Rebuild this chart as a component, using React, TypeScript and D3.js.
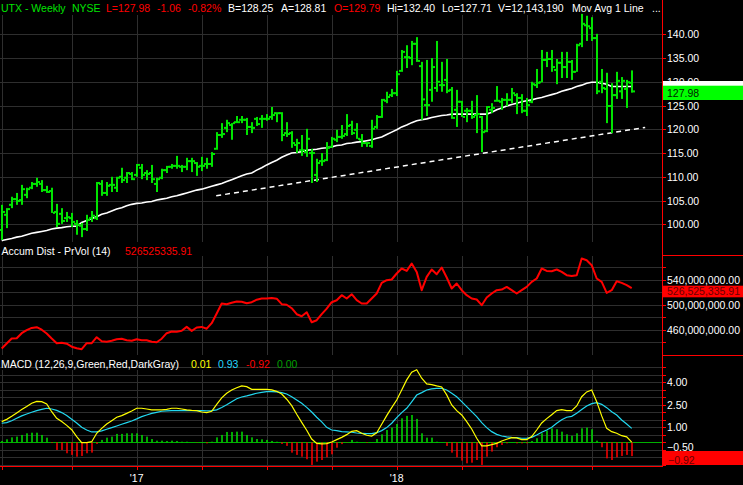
import React from "react";
import * as d3 from "d3";

const W = 743;
const H = 485;

// Weekly OHLC (UTX, ~Jul 2016 .. Nov 2018), 127 bars
const opens = [98.8,102.0,104.1,105.3,105.1,106.2,107.7,108.5,108.5,107.2,
107.0,102.6,102.2,101.3,101.3,100.1,99.7,99.0,101.3,101.3,
108.5,106.6,108.3,107.7,110.0,109.8,110.6,110.4,111.9,110.8,
110.8,108.5,109.8,111.4,112.1,112.3,112.1,112.1,113.3,112.9,
112.3,112.7,112.7,115.9,118.8,120.3,120.9,121.5,122.0,122.0,
120.5,122.2,122.2,122.2,122.6,123.4,123.4,119.2,119.2,116.7,
115.6,115.2,115.0,110.4,113.3,113.5,116.3,117.8,118.4,119.0,
120.9,119.9,117.8,117.1,116.5,120.5,122.6,126.0,127.2,127.6,
132.3,135.2,135.0,138.0,133.3,125.1,128.3,128.7,129.3,130.4,
128.3,124.1,125.8,123.9,123.9,123.0,122.6,119.6,124.1,126.0,
125.8,126.2,126.2,127.2,126.6,123.9,125.8,129.3,129.9,134.6,
134.8,132.5,134.0,133.1,134.2,132.1,138.0,141.9,141.3,139.2,
130.0,128.5,124.9,127.2,128.0,128.5,129.79];
const highs = [104.1,103.4,105.8,106.6,108.3,107.7,108.9,109.8,109.3,108.1,
107.7,104.3,103.4,102.6,102.4,100.9,100.3,102.0,102.8,108.9,
109.3,108.9,110.0,110.0,111.9,111.0,111.0,112.7,112.7,111.4,
112.5,109.8,111.7,112.3,112.7,114.4,112.5,114.0,114.0,113.1,
114.2,114.0,115.2,119.4,121.3,122.0,121.3,122.8,122.8,122.4,
121.5,122.6,123.0,123.2,124.7,123.6,123.6,121.5,119.6,118.0,
118.8,120.1,115.9,113.8,115.0,117.3,118.4,119.9,120.9,123.2,
121.8,121.3,119.0,117.3,122.0,123.0,126.4,127.9,128.5,132.3,
136.7,137.7,138.6,139.4,134.2,134.6,135.0,138.6,134.2,134.8,
128.9,128.3,126.0,124.5,126.0,127.2,122.8,124.9,125.5,129.1,
126.6,127.6,128.7,127.6,127.4,126.6,130.0,132.7,136.7,136.3,
136.7,134.8,136.3,136.3,134.6,138.0,144.3,143.9,143.6,140.1,
132.7,131.9,129.7,132.1,131.0,130.4,132.40];
const lows = [96.7,99.2,103.4,104.1,104.1,105.5,107.4,107.9,106.8,106.6,
102.4,99.4,100.1,100.5,99.4,97.8,97.3,98.6,100.5,100.9,
106.0,106.0,106.8,106.8,108.7,108.7,109.3,110.0,109.5,109.3,
108.7,106.8,109.5,110.8,111.7,111.7,111.0,111.4,111.0,110.2,
111.2,111.7,112.1,115.7,118.2,119.4,117.8,121.3,121.3,118.8,
119.2,120.7,120.3,121.8,122.0,121.5,117.5,118.4,116.1,115.0,
114.4,114.2,108.7,108.9,112.3,113.3,116.1,117.3,118.0,118.6,
118.8,118.0,116.3,116.3,116.1,120.1,122.4,125.5,126.8,127.0,
132.1,132.9,133.5,134.2,122.0,122.8,125.8,127.9,127.9,127.6,
122.2,120.5,122.6,121.5,122.2,119.2,115.2,119.4,123.4,125.8,
124.1,124.9,125.5,123.2,123.4,122.8,125.5,128.7,129.9,133.1,
132.1,129.5,130.8,130.8,130.4,132.1,137.3,138.6,138.6,127.4,
127.6,121.3,119.2,126.4,126.4,124.5,127.71];
const closes = [102.6,103.2,105.3,104.9,107.4,107.4,108.5,108.9,107.2,106.8,
102.4,100.1,100.7,101.5,100.5,99.9,99.0,100.9,101.8,108.7,
106.6,108.1,108.3,109.8,109.3,110.8,109.5,112.5,110.4,110.6,
109.5,109.5,111.4,112.1,112.3,112.3,112.1,113.3,113.3,112.1,
112.3,112.7,114.8,118.8,119.0,121.3,121.3,121.5,122.0,120.5,
120.3,121.1,122.2,122.2,123.0,123.4,118.8,119.0,117.1,117.1,
115.6,118.0,115.0,112.9,113.3,116.1,118.0,118.4,118.6,120.7,
119.2,118.0,117.1,117.1,120.1,122.6,126.2,126.8,127.6,131.6,
136.3,135.2,138.0,134.4,126.3,125.1,133.1,130.0,129.3,128.1,
122.4,125.8,122.6,123.9,122.6,123.2,119.4,124.7,124.5,126.0,
126.2,126.2,127.6,126.6,123.9,125.1,129.5,129.8,134.6,134.8,
133.1,134.0,133.1,134.2,132.1,137.7,142.2,141.7,139.2,128.0,
128.7,124.9,127.2,130.2,130.2,129.9,127.98];

const movAvg = [96.6,96.8,97.0,97.3,97.5,97.8,98.1,98.3,98.5,98.7,
99.0,99.2,99.3,99.5,99.6,99.6,100.4,100.8,101.2,101.6,
102.1,102.4,102.8,103.2,103.5,103.9,104.2,104.4,104.5,104.7,
104.8,105.1,105.3,105.5,105.8,106.0,106.3,106.6,106.9,107.2,
107.4,107.7,108.0,108.3,108.6,109.0,109.4,109.8,110.2,110.6,
110.8,111.4,111.9,112.5,113.0,113.5,114.1,114.6,115.0,115.1,
115.3,115.6,115.7,115.8,116.0,116.1,116.3,116.6,116.7,117.0,
117.1,117.3,117.4,117.6,117.8,118.1,118.4,118.9,119.4,119.9,
120.5,120.9,121.4,121.8,122.0,122.2,122.5,122.7,122.9,123.0,
123.2,123.2,123.2,123.2,123.2,123.2,123.2,123.2,123.6,124.1,
124.5,124.9,125.2,125.5,125.8,126.0,126.2,126.5,126.7,127.0,
127.3,127.6,128.0,128.3,128.6,129.0,129.3,129.7,129.9,129.9,
129.7,129.5,129.0,129.0,129.0,129.0,129.0];

// Accum Dist - PrVol (14), in millions
const accumDist = [429.9,437.9,445.9,446.4,454.4,459.2,462.9,464.0,460.0,453.9,
445.9,438.4,439.2,437.6,432.8,430.4,428.8,438.4,438.4,448.0,
441.6,440.8,442.4,444.8,445.6,443.2,442.4,444.8,443.2,443.2,
440.8,440.0,445.6,454.4,457.1,456.8,458.4,464.5,458.1,463.5,
464.5,461.6,470.4,485.9,501.9,500.8,503.2,505.1,504.8,502.4,
504.0,508.0,509.9,509.9,510.7,509.6,500.8,500.0,494.4,484.8,
481.6,488.0,472.0,475.2,484.8,493.6,504.0,507.2,515.2,509.9,
516.8,507.2,501.9,501.9,509.9,517.9,534.9,539.2,540.3,549.9,
557.9,554.1,565.9,552.5,523.2,544.5,556.3,548.8,559.5,543.5,
525.9,533.9,523.2,515.2,509.9,508.3,499.2,511.5,517.9,523.2,
524.3,528.5,523.2,517.9,523.2,528.5,536.5,541.9,557.9,554.1,
553.6,556.3,552.5,547.2,546.1,547.2,573.9,571.2,563.2,541.9,
536.5,518.9,523.2,537.6,534.9,531.2,526.5];

const macdLine = [1.38,1.53,1.73,1.96,2.18,2.38,2.60,2.73,2.71,2.56,
2.04,1.60,1.38,1.13,0.84,0.38,-0.02,-0.02,0.04,0.60,
0.93,1.22,1.44,1.67,1.78,1.93,2.09,2.27,2.27,2.22,
2.16,2.16,2.16,2.20,2.27,2.27,2.22,2.16,2.13,2.11,
2.02,1.98,2.07,2.53,2.96,3.27,3.49,3.64,3.76,3.71,
3.53,3.53,3.53,3.53,3.49,3.40,3.22,2.87,2.44,1.87,
1.33,0.80,0.22,-0.07,-0.11,-0.09,0.02,0.18,0.33,0.51,
0.73,0.78,0.60,0.47,0.42,0.64,1.20,1.78,2.31,2.82,
3.49,4.16,4.67,4.84,4.27,3.89,3.84,3.76,3.69,3.16,
2.49,2.11,1.82,1.38,0.89,0.27,-0.24,-0.24,-0.16,-0.07,
0.09,0.20,0.31,0.29,0.18,0.18,0.38,0.82,1.29,1.58,
1.84,2.11,2.18,2.11,2.11,2.42,3.04,3.36,3.49,2.71,
1.76,0.93,0.71,0.60,0.44,0.36,0.01];
const signalLine = [1.27,1.31,1.44,1.60,1.76,1.89,2.00,2.11,2.20,2.27,
2.22,2.13,1.98,1.78,1.53,1.29,1.00,0.82,0.69,0.69,
0.76,0.87,0.98,1.09,1.20,1.31,1.42,1.56,1.71,1.82,
1.93,2.00,2.07,2.09,2.11,2.11,2.11,2.11,2.11,2.11,
2.11,2.09,2.11,2.16,2.32,2.50,2.70,2.90,3.02,3.09,
3.18,3.27,3.33,3.38,3.38,3.36,3.31,3.22,3.04,2.82,
2.60,2.33,2.02,1.67,1.36,1.00,0.82,0.78,0.71,0.69,
0.67,0.62,0.60,0.58,0.58,0.64,0.78,0.98,1.27,1.64,
1.98,2.27,2.70,3.15,3.31,3.49,3.56,3.60,3.60,3.49,
3.27,3.04,2.71,2.38,2.04,1.71,1.31,0.98,0.71,0.53,
0.42,0.36,0.33,0.31,0.27,0.27,0.33,0.49,0.67,0.82,
1.00,1.27,1.51,1.67,1.73,1.93,2.18,2.42,2.58,2.64,
2.53,2.31,2.04,1.82,1.49,1.22,0.93];
const histogram = [0.09,0.20,0.33,0.38,0.49,0.60,0.64,0.64,0.49,0.31,
-0.05,-0.51,-0.51,-0.73,-0.84,-0.96,-0.91,-0.73,-0.69,-0.11,
0.16,0.31,0.38,0.56,0.56,0.60,0.60,0.60,0.49,0.38,
0.22,0.11,0.11,0.09,0.11,0.09,0.04,0.04,0.0,-0.02,
0.0,-0.07,0.04,0.33,0.49,0.69,0.69,0.71,0.71,0.49,
0.33,0.22,0.20,0.16,0.09,0.04,-0.11,-0.24,-0.69,-0.84,
-0.96,-1.13,-1.51,-1.29,-1.18,-1.00,-0.80,-0.36,-0.12,-0.02,
0.16,0.04,0.0,-0.04,0.0,0.22,0.53,0.82,0.98,1.22,
1.60,1.76,1.82,1.56,0.60,0.31,0.31,0.04,0.0,-0.24,
-0.69,-1.00,-1.22,-1.40,-1.36,-1.18,-1.51,-0.96,-0.62,-0.33,
-0.18,-0.07,0.0,-0.07,-0.07,-0.07,0.09,0.27,0.60,0.78,
0.93,0.87,0.71,0.53,0.44,0.60,0.93,0.98,0.87,0.11,
-0.33,-1.07,-1.18,-1.00,-0.91,-0.84,-0.92];

const trendLine = [
  { idx: 42.9, price: 106.0 },
  { idx: 128.7, price: 120.4 },
];

const priceTicks = [100, 105, 110, 115, 120, 125, 130, 135, 140];
const adGridTicks = [440, 460, 480, 500, 520, 540, 560];
const adLabelTicks = [460, 500, 540];
const macdGridTicks = [-1.5, -1.0, -0.5, 0.5, 1.0, 1.5, 2.0, 2.5, 3.0, 3.5, 4.0, 4.5, 5.0];
const macdLabelTicks = [-0.5, 1.0, 2.5, 4.0];
const quarterIdx = [0, 14, 27, 40, 53, 66, 79, 92, 105, 118];
const yearLabels = [
  { idx: 27, label: "'17" },
  { idx: 79, label: "'18" },
];

const GREEN = "#00e400";
const RED = "#ff0000";
const WHITE = "#ffffff";
const GRID = "#2e2e2e";
const FONT = "'Liberation Sans', Arial, sans-serif";

const headerItems = [
  { t: "UTX - Weekly", x: 1, c: GREEN },
  { t: "NYSE", x: 72, c: GREEN },
  { t: "L=127.98", x: 106, c: RED },
  { t: "-1.06", x: 157, c: RED },
  { t: "-0.82%", x: 188, c: RED },
  { t: "B=128.25", x: 228, c: WHITE },
  { t: "A=128.81", x: 281, c: WHITE },
  { t: "O=129.79", x: 334, c: RED },
  { t: "Hi=132.40", x: 387, c: WHITE },
  { t: "Lo=127.71", x: 442, c: WHITE },
  { t: "V=12,143,190", x: 498, c: WHITE },
  { t: "Mov Avg 1 Line", x: 572, c: WHITE },
  { t: "...", x: 652, c: WHITE },
];

const macdHeader = [
  { t: "MACD (12,26,9,Green,Red,DarkGray)", x: 1, c: WHITE },
  { t: "0.01", x: 191, c: "#ffff00" },
  { t: "0.93", x: 218, c: "#22d8ff" },
  { t: "-0.92", x: 246, c: RED },
  { t: "0.00", x: 277, c: "#00a000" },
];

export default function App() {
  const AX = 662; // right axis x
  const x = d3.scaleLinear().domain([0, 126]).range([1.7, 631.7]);
  const yP = d3.scaleLinear().domain([100, 140]).range([224.3, 34.3]);
  const yA = d3.scaleLinear().domain([460, 540]).range([329.7, 279.7]);
  const yM = d3.scaleLinear().domain([0, 4]).range([442.3, 382.3]);

  const idx = d3.range(closes.length);
  const px = (i: number) => Math.round(x(i));

  const maPath = d3.line<number>().x((i) => x(i)).y((i) => yP(movAvg[i]))(idx) || "";
  const adPath = d3.line<number>().x((i) => x(i)).y((i) => yA(accumDist[i]))(idx) || "";
  const macdPath = d3.line<number>().x((i) => x(i)).y((i) => yM(macdLine[i]))(idx) || "";
  const sigPath = d3.line<number>().x((i) => x(i)).y((i) => yM(signalLine[i]))(idx) || "";
  const trendPath =
    d3.line<{ idx: number; price: number }>().x((d) => x(d.idx)).y((d) => yP(d.price))(trendLine) || "";

  const txt = { fontFamily: FONT, fontSize: 10.5 } as const;

  return (
    <div style={{ position: "absolute", left: 0, top: 0 }}>
      <svg width={W} height={H} style={{ display: "block", background: "#000" }}>
        <defs>
          <clipPath id="clipPriceAxis">
            <rect x={AX} y={0} width={W - AX} height={81} />
            <rect x={AX} y={100} width={W - AX} height={150} />
          </clipPath>
        </defs>
        <rect x={0} y={0} width={W} height={H} fill="#000" />

        {/* ---------- grids ---------- */}
        {quarterIdx.map((q) => (
          <g key={"vg" + q}>
            <line x1={px(q) + 0.5} x2={px(q) + 0.5} y1={15} y2={242} stroke={GRID} />
            <line x1={px(q) + 0.5} x2={px(q) + 0.5} y1={256} y2={355} stroke={GRID} />
            <line x1={px(q) + 0.5} x2={px(q) + 0.5} y1={370} y2={467} stroke={GRID} />
          </g>
        ))}
        {priceTicks.map((p) => (
          <line key={"pg" + p} x1={0} x2={AX} y1={Math.round(yP(p)) + 0.5} y2={Math.round(yP(p)) + 0.5} stroke={GRID} />
        ))}
        {adGridTicks.map((v) => (
          <line key={"ag" + v} x1={0} x2={AX} y1={Math.round(yA(v)) + 0.5} y2={Math.round(yA(v)) + 0.5} stroke={GRID} />
        ))}
        {macdGridTicks.map((v) => (
          <line key={"mg" + v} x1={0} x2={AX} y1={Math.round(yM(v)) + 0.5} y2={Math.round(yM(v)) + 0.5} stroke={GRID} />
        ))}

        {/* ---------- price panel ---------- */}
        <path d={trendPath} fill="none" stroke={WHITE} strokeWidth={1.5} strokeDasharray="5,4" />
        <path d={maPath} fill="none" stroke={WHITE} strokeWidth={1.6} />
        {idx.map((i) => {
          const cx = px(i);
          return (
            <g key={"b" + i} fill={GREEN}>
              <rect x={cx - 1} y={yP(highs[i])} width={2} height={Math.max(1, yP(lows[i]) - yP(highs[i]))} />
              <rect x={cx - 3} y={yP(opens[i]) - 1} width={2} height={2} />
              <rect x={cx + 1} y={yP(closes[i]) - 1} width={2} height={2} />
            </g>
          );
        })}

        {/* ---------- accum dist ---------- */}
        <path d={adPath} fill="none" stroke={RED} strokeWidth={2} strokeLinejoin="round" />

        {/* ---------- MACD ---------- */}
        <line x1={0} x2={AX} y1={Math.round(yM(0)) + 0.5} y2={Math.round(yM(0)) + 0.5} stroke="#00b000" />
        {idx.map((i) => {
          const v = histogram[i];
          const y0 = yM(0);
          const y1 = yM(v);
          return (
            <rect
              key={"h" + i}
              x={px(i) - 0.75}
              y={Math.min(y0, y1)}
              width={1.5}
              height={Math.abs(y1 - y0)}
              fill={v >= 0 ? "#00e000" : RED}
            />
          );
        })}
        <path d={sigPath} fill="none" stroke="#22d8f0" strokeWidth={1.2} />
        <path d={macdPath} fill="none" stroke="#ffff00" strokeWidth={1.2} />

        {/* ---------- headers ---------- */}
        {headerItems.map((h) => (
          <text key={h.t} x={h.x} y={11.5} fill={h.c} {...txt}>
            {h.t}
          </text>
        ))}
        <text x={1.5} y={254.5} fill={WHITE} {...txt}>
          Accum Dist - PrVol (14)
        </text>
        <text x={125} y={254.5} fill={RED} {...txt}>
          526525335.91
        </text>
        {macdHeader.map((h) => (
          <text key={h.t} x={h.x} y={367.5} fill={h.c} {...txt}>
            {h.t}
          </text>
        ))}

        {/* ---------- right axis ---------- */}
        <line x1={AX + 0.5} x2={AX + 0.5} y1={0} y2={467} stroke={RED} />
        <line x1={AX} x2={W} y1={255.5} y2={255.5} stroke={RED} />
        <line x1={AX} x2={W} y1={355.5} y2={355.5} stroke={RED} />
        {priceTicks.map((p) => (
          <g key={"pt" + p}>
            <line x1={AX} x2={AX + 4} y1={Math.round(yP(p)) + 0.5} y2={Math.round(yP(p)) + 0.5} stroke={RED} />
            <text x={667} y={yP(p) + 4} fill={WHITE} clipPath="url(#clipPriceAxis)" {...txt}>
              {d3.format(".2f")(p)}
            </text>
          </g>
        ))}
        {adGridTicks.map((v) => (
          <line key={"at" + v} x1={AX} x2={AX + 4} y1={Math.round(yA(v)) + 0.5} y2={Math.round(yA(v)) + 0.5} stroke={RED} />
        ))}
        {adLabelTicks.map((v) => (
          <text key={"al" + v} x={667} y={yA(v) + 4} fill={WHITE} {...txt}>
            {d3.format(",.2f")(v * 1e6)}
          </text>
        ))}
        {macdGridTicks.concat([0]).map((v) => (
          <line key={"mt" + v} x1={AX} x2={AX + 4} y1={Math.round(yM(v)) + 0.5} y2={Math.round(yM(v)) + 0.5} stroke={RED} />
        ))}
        {macdLabelTicks.map((v) => (
          <text key={"ml" + v} x={667} y={v < 0 ? yM(v) + 1.3 : yM(v) + 4} fill={WHITE} {...txt}>
            {d3.format(".2f")(v)}
          </text>
        ))}

        {/* last value boxes */}
        <rect x={AX + 1} y={81} width={W - AX - 1} height={14} fill="#ffffff" />
        <rect x={AX + 1} y={85.7} width={W - AX - 1} height={14.3} fill="#00ff00" />
        <text x={667} y={96.8} fill="#002200" {...txt}>
          {d3.format(".2f")(closes[closes.length - 1])}
        </text>
        <rect x={AX + 1} y={285.7} width={W - AX - 1} height={11.6} fill={RED} />
        <text x={667} y={295.3} fill="#6a0000" {...txt}>
          526,525,335.91
        </text>
        <rect x={AX + 1} y={451} width={W - AX - 1} height={14} fill={RED} />
        <text x={668} y={463.8} fill="#6a0000" {...txt}>
          {d3.format(".2f")(histogram[histogram.length - 1])}
        </text>

        {/* ---------- bottom axis ---------- */}
        <line x1={0} x2={AX + 1} y1={466.5} y2={466.5} stroke={RED} />
        {quarterIdx.map((q) => (
          <line key={"xt" + q} x1={px(q) + 0.5} x2={px(q) + 0.5} y1={467} y2={470} stroke={RED} />
        ))}
        {yearLabels.map((l) => (
          <text key={l.label} x={x(l.idx)} y={482} fill={WHITE} textAnchor="middle" {...txt}>
            {l.label}
          </text>
        ))}
      </svg>
    </div>
  );
}
